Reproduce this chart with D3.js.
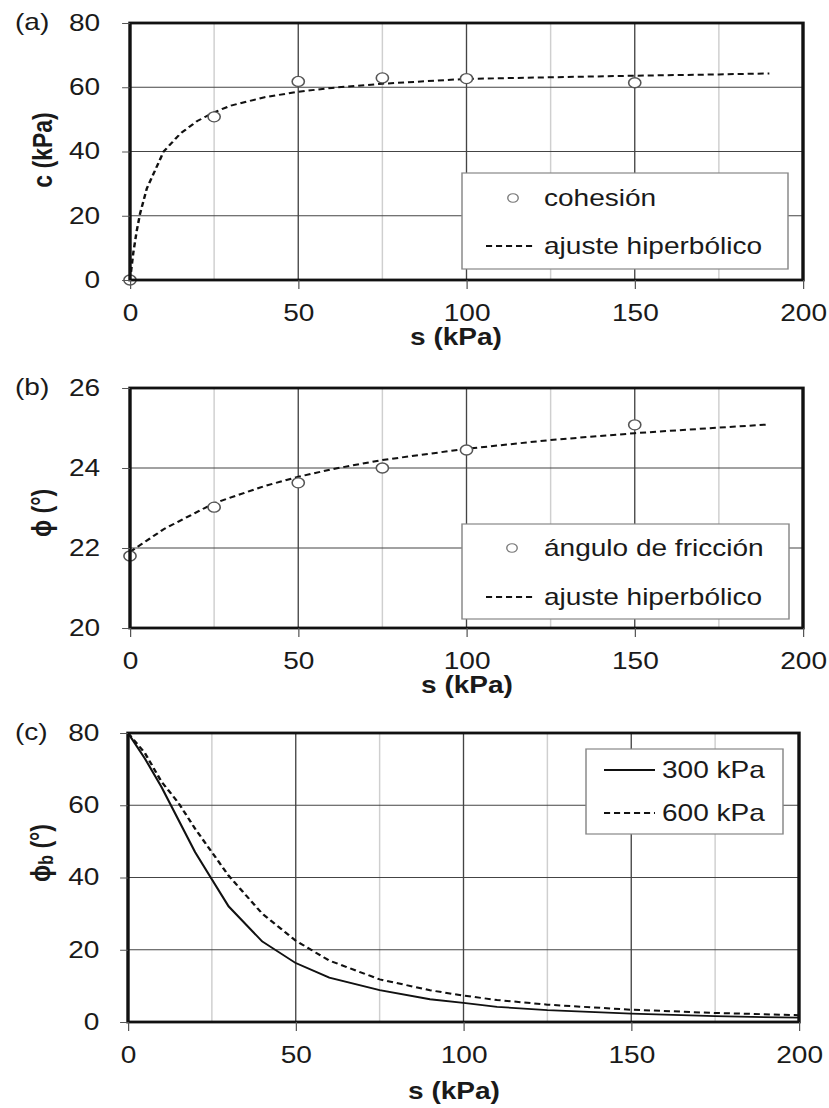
<!DOCTYPE html>
<html>
<head>
<meta charset="utf-8">
<script src="https://cdn.jsdelivr.net/npm/d3@7"></script>
<style>
    body { margin: 0; background: #fff; }
    text { font-family: "Liberation Sans", Arial, sans-serif; fill: #1a1a1a; }
</style>
</head>
<body>
<div class="chart"></div>
<script>
// Data
const xTicks = [0, 50, 100, 150, 200];
const xMinorTicks = [25, 75, 125, 175];

// (a) cohesion
const cohesionS = [0, 25, 50, 75, 100, 150];
const cohesionC = [0, 50.8, 61.8, 62.9, 62.7, 61.4];
const cohesionFitS = [0, 1, 2, 3, 5, 10, 15, 20, 25, 30, 40, 50, 60, 75, 100, 125, 150, 175, 190];
const cohesionFitC = [0, 8.6, 15.3, 20.7, 28.5, 40, 45.6, 49.5, 52.2, 54.3, 56.9, 58.6, 59.8, 61.1, 62.6, 63.1, 63.6, 64.0, 64.3];
const cTicks = [0, 20, 40, 60, 80];

// (b) friction angle
const frictionS = [0, 25, 50, 75, 100, 150];
const frictionPhi = [21.8, 23.02, 23.63, 24.0, 24.45, 25.08];
const frictionFitS = [0, 10, 25, 40, 50, 60, 75, 100, 125, 150, 175, 190];
const frictionFitPhi = [21.9, 22.47, 23.12, 23.55, 23.78, 23.97, 24.2, 24.48, 24.7, 24.87, 25.01, 25.09];
const phiTicks = [20, 22, 24, 26];

// (c) phi_b
const phibS = [0, 5, 10, 15, 20, 25, 30, 40, 50, 60, 75, 90, 100, 110, 125, 150, 175, 200];
const phib300 = [80, 73, 65, 56, 47, 39.5, 32, 22.3, 16.3, 12.3, 8.8, 6.3, 5.3, 4.2, 3.3, 2.3, 1.6, 1.2];
const phib600 = [80, 74.5, 66.5, 60.7, 53.5, 47, 40.5, 30, 22.5, 17, 11.8, 8.8, 7.3, 6.1, 4.8, 3.4, 2.5, 1.9];
const phibTicks = [0, 20, 40, 60, 80];

// Dimensions (the picture is stretched horizontally, so draw in a narrower box)
const dimensions = { width: 829, height: 1108, innerWidth: 680 };
const FONT = 23;

const svg = d3.select('.chart')
    .append('svg')
    .attr('width', dimensions.width)
    .attr('height', dimensions.height)
    .attr('viewBox', `0 0 ${dimensions.innerWidth} ${dimensions.height}`)
    .attr('preserveAspectRatio', 'none');

const zip = (xs, ys) => xs.map((d, i) => [d, ys[i]]);

function drawPanel(p) {
    const g = svg.append('g');

    const xScale = d3.scaleLinear().domain([0, 200]).range([p.left, p.right]);
    const yScale = d3.scaleLinear().domain(p.yDomain).range([p.bottom, p.top]);

    // Grid
    g.append('g').selectAll('line')
        .data(xMinorTicks)
        .join('line')
        .attr('x1', d => xScale(d)).attr('x2', d => xScale(d))
        .attr('y1', p.top).attr('y2', p.bottom)
        .attr('stroke', '#cfcfcf').attr('stroke-width', 1.2);

    g.append('g').selectAll('line')
        .data(xTicks.slice(1, -1))
        .join('line')
        .attr('x1', d => xScale(d)).attr('x2', d => xScale(d))
        .attr('y1', p.top).attr('y2', p.bottom)
        .attr('stroke', '#444').attr('stroke-width', 1.1);

    g.append('g').selectAll('line')
        .data(p.yTicks.slice(1, -1))
        .join('line')
        .attr('x1', p.left).attr('x2', p.right)
        .attr('y1', d => yScale(d)).attr('y2', d => yScale(d))
        .attr('stroke', '#444').attr('stroke-width', 1.1);

    // Lines
    const line = d3.line()
        .x(d => xScale(d[0]))
        .y(d => yScale(d[1]));

    p.series.forEach(s => {
        g.append('path')
            .datum(s.points)
            .attr('fill', 'none')
            .attr('stroke', '#111')
            .attr('stroke-width', s.dashed ? 2 : 1.8)
            .attr('stroke-dasharray', s.dashed ? '5,3.2' : null)
            .attr('d', line);
    });

    // Points
    if (p.markers) {
        g.append('g').selectAll('circle')
            .data(p.markers)
            .join('circle')
            .attr('cx', d => xScale(d[0]))
            .attr('cy', d => yScale(d[1]))
            .attr('r', 5)
            .attr('fill', '#fff')
            .attr('stroke', '#555')
            .attr('stroke-width', 1.3);
    }

    // Frame
    g.append('rect')
        .attr('x', p.left).attr('y', p.top)
        .attr('width', p.right - p.left).attr('height', p.bottom - p.top)
        .attr('fill', 'none').attr('stroke', '#111').attr('stroke-width', 2.8);

    // Axis
    const xAxisGroup = g.append('g')
        .attr('transform', `translate(0, ${p.bottom})`)
        .call(d3.axisBottom(xScale).tickValues(xTicks).tickSize(9).tickPadding(15.5).tickFormat(d3.format('d')))
        .attr('font-size', FONT);
    xAxisGroup.select('.domain').remove();
    xAxisGroup.selectAll('.tick line').attr('stroke', '#555');

    const yAxisGroup = g.append('g')
        .attr('transform', `translate(${p.left}, 0)`)
        .call(d3.axisLeft(yScale).tickValues(p.yTicks).tickSize(6.5).tickPadding(p.yPad).tickFormat(d3.format('d')))
        .attr('font-size', FONT);
    yAxisGroup.select('.domain').remove();
    yAxisGroup.selectAll('.tick line').attr('stroke', '#555');

    // Titles
    g.append('text')
        .attr('x', 12.3).attr('y', p.top + 7.4)
        .attr('font-size', FONT)
        .text(p.tag);

    g.append('text')
        .attr('x', p.xTitleX).attr('y', p.xTitleY)
        .attr('text-anchor', 'middle')
        .attr('font-size', FONT).attr('font-weight', 'bold')
        .text('s (kPa)');

    const yTitle = g.append('text')
        .attr('transform', `translate(${p.yTitleX}, ${p.yTitleY}) rotate(-90)`)
        .attr('text-anchor', 'middle')
        .attr('dominant-baseline', 'central')
        .attr('font-size', FONT).attr('font-weight', 'bold');
    p.yTitle(yTitle);

    // Legend
    const lg = p.legend;
    const legendGroup = g.append('g');
    legendGroup.append('rect')
        .attr('x', lg.x0).attr('y', lg.y0)
        .attr('width', lg.x1 - lg.x0).attr('height', lg.y1 - lg.y0)
        .attr('fill', '#fff').attr('stroke', '#888').attr('stroke-width', 1.2);

    lg.items.forEach((item, i) => {
        const yy = lg.rows[i];
        if (item.type === 'marker') {
            legendGroup.append('circle')
                .attr('cx', lg.markerX).attr('cy', yy).attr('r', 4.3)
                .attr('fill', '#fff').attr('stroke', '#777').attr('stroke-width', 1.1);
        } else {
            legendGroup.append('line')
                .attr('x1', lg.lineX0).attr('x2', lg.lineX1)
                .attr('y1', yy).attr('y2', yy)
                .attr('stroke', '#111').attr('stroke-width', 1.8)
                .attr('stroke-dasharray', item.type === 'dashed' ? '5,3.2' : null);
        }
        legendGroup.append('text')
            .attr('x', lg.textX).attr('y', yy)
            .attr('dominant-baseline', 'central')
            .attr('font-size', FONT)
            .text(item.label);
    });
}

const K = dimensions.width / dimensions.innerWidth;

drawPanel({
    tag: '(a)',
    left: 130 / K, right: 803 / K, top: 23, bottom: 280,
    yDomain: [0, 80], yTicks: cTicks, yPad: 18,
    series: [{ points: zip(cohesionFitS, cohesionFitC), dashed: true }],
    markers: zip(cohesionS, cohesionC),
    xTitleX: 456 / K, xTitleY: 345,
    yTitleX: 34.4, yTitleY: 150,
    yTitle: t => t.text('c (kPa)'),
    legend: {
        x0: 462 / K, x1: 788 / K, y0: 173, y1: 269,
        rows: [198, 246], markerX: 513 / K, lineX0: 486 / K, lineX1: 535 / K, textX: 544 / K,
        items: [{ type: 'marker', label: 'cohesión' }, { type: 'dashed', label: 'ajuste hiperbólico' }]
    }
});

drawPanel({
    tag: '(b)',
    left: 130 / K, right: 803 / K, top: 388, bottom: 628,
    yDomain: [20, 26], yTicks: phiTicks, yPad: 18,
    series: [{ points: zip(frictionFitS, frictionFitPhi), dashed: true }],
    markers: zip(frictionS, frictionPhi),
    xTitleX: 467 / K, xTitleY: 693,
    yTitleX: 33.6, yTitleY: 513,
    yTitle: t => t.text('ϕ (°)'),
    legend: {
        x0: 462 / K, x1: 789 / K, y0: 524, y1: 619,
        rows: [548, 597], markerX: 512 / K, lineX0: 486 / K, lineX1: 535 / K, textX: 544 / K,
        items: [{ type: 'marker', label: 'ángulo de fricción' }, { type: 'dashed', label: 'ajuste hiperbólico' }]
    }
});

drawPanel({
    tag: '(c)',
    left: 128 / K, right: 799 / K, top: 733, bottom: 1022,
    yDomain: [0, 80], yTicks: phibTicks, yPad: 17,
    series: [
        { points: zip(phibS, phib300), dashed: false },
        { points: zip(phibS, phib600), dashed: true }
    ],
    markers: null,
    xTitleX: 454 / K, xTitleY: 1099,
    yTitleX: 33, yTitleY: 853,
    yTitle: t => {
        t.append('tspan').text('ϕ');
        t.append('tspan').attr('font-size', 16).attr('dy', 5).text('b');
        t.append('tspan').attr('dy', -5).text(' (°)');
    },
    legend: {
        x0: 586 / K, x1: 783 / K, y0: 749, y1: 834,
        rows: [770, 813], markerX: 0, lineX0: 604 / K, lineX1: 655 / K, textX: 662 / K,
        items: [{ type: 'solid', label: '300 kPa' }, { type: 'dashed', label: '600 kPa' }]
    }
});
</script>
</body>
</html>
